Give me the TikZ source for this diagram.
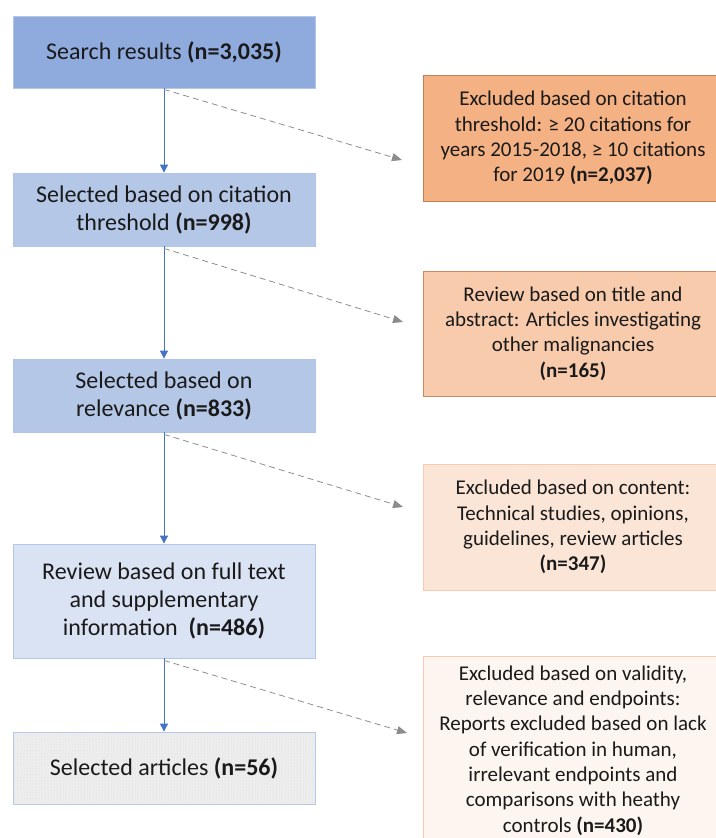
\documentclass[tikz,border=0pt]{standalone}
\usepackage{fontspec}
\setmainfont{Carlito}
\usetikzlibrary{arrows.meta,patterns}
\definecolor{ink}{HTML}{1A1A1A}
\definecolor{blueA}{HTML}{8FAADC}
\definecolor{blueB}{HTML}{B4C7E7}
\definecolor{blueC}{HTML}{DAE3F3}
\definecolor{greyE}{HTML}{EDEDED}
\definecolor{arrowblue}{HTML}{4472C4}
\definecolor{dashgray}{HTML}{8C8C8C}
\definecolor{orA}{HTML}{F4B183}
\definecolor{orAline}{HTML}{C5804F}
\definecolor{orB}{HTML}{F8CBAD}
\definecolor{orBline}{HTML}{C98A64}
\definecolor{orC}{HTML}{FBE5D6}
\definecolor{orD}{HTML}{FDF5EF}

\begin{document}
\begin{tikzpicture}[x=1pt,y=-1pt,
  box/.style={draw,align=center,inner sep=0pt,minimum width=302pt,text=ink,
    line width=.8pt,font=\fontsize{24}{28}\selectfont},
  cut/.style={box,minimum width=300pt,minimum height=126pt,
    font=\fontsize{21}{25.3}\selectfont},
  flow/.style={-{Triangle[width=8pt,length=8pt]},draw=arrowblue,line width=.9pt},
  skip/.style={-{Triangle[width=8pt,length=10pt]},draw=dashgray,
    dash pattern=on 6pt off 4pt,line width=.8pt}]
\useasboundingbox (0,0) rectangle (715,838);
% main column
\node[box,fill=blueA,draw=blueB,minimum height=72pt] (b1) at (164,52)
  {Search results \textbf{(n=3,035)}};
\node[box,fill=blueB,draw=blueA!70,minimum height=73pt] (b2) at (164,209.5)
  {Selected based on citation\\threshold \textbf{(n=998)}};
\node[box,fill=blueB,draw=blueA!70,minimum height=73pt] (b3) at (164,395.5)
  {Selected based on\\relevance \textbf{(n=833)}};
\node[box,fill=blueC,draw=blueB,minimum height=114pt] (b4) at (164,601)
  {Review based on full text\\and supplementary\\information\ \ \textbf{(n=486)}};
\node[box,fill=greyE,draw=blueB,minimum height=72pt,
  postaction={pattern=dots,pattern color=gray!30}] (b5) at (164,768)
  {Selected articles \textbf{(n=56)}};
% excluded column
\node[cut,fill=orA,draw=orAline] (r1) at (573,138)
  {Excluded based on citation\\threshold: ≥ 20 citations for\\years 2015-2018, ≥ 10 citations\\for 2019 \textbf{(n=2,037)}};
\node[cut,fill=orB,draw=orBline,minimum height=125pt] (r2) at (573,333.5)
  {Review based on title and\\abstract: Articles investigating\\other malignancies\\\textbf{(n=165)}};
\node[cut,fill=orC,draw=orB] (r3) at (573,527)
  {Excluded based on content:\\Technical studies, opinions,\\guidelines, review articles\\\textbf{(n=347)}};
\node[cut,fill=orD,draw=orB,minimum height=189pt] (r4) at (573,750.5)
  {Excluded based on validity,\\relevance and endpoints:\\Reports excluded based on lack\\of verification in human,\\irrelevant endpoints and\\comparisons with heathy\\controls \textbf{(n=430)}};
% free ends of the dashed arrows
\coordinate (e1) at (402,160);
\coordinate (e2) at (403,322);
\coordinate (e3) at (403,507);
\coordinate (e4) at (407,733);
\draw[flow] (b1.south) -- (b2.north);
\draw[flow] (b2.south) -- (b3.north);
\draw[flow] (b3.south) -- (b4.north);
\draw[flow] (b4.south) -- (b5.north);
\draw[skip] ([yshift=-1pt]b1.south) -- (e1);
\draw[skip] ([yshift=-2pt]b2.south) -- (e2);
\draw[skip] ([yshift=-2pt]b3.south) -- (e3);
\draw[skip] ([yshift=-2pt]b4.south) -- (e4);
\end{tikzpicture}
\end{document}
